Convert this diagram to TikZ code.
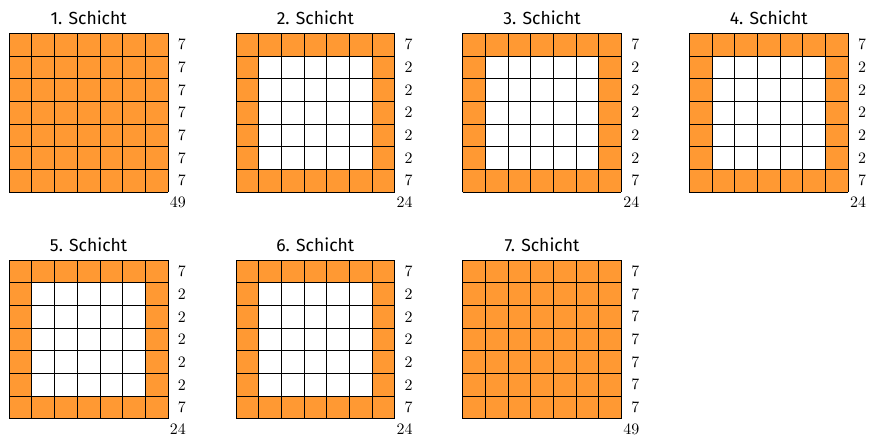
\documentclass[tikz,border=0pt]{standalone}
\usepackage{fontspec}
\setsansfont{Fira Sans}
\usetikzlibrary{positioning}
\definecolor{schichtorange}{HTML}{FF9933}

\begin{document}
\begin{tikzpicture}[
    x=0.5cm,
    y=0.5cm,
    aussen/.style={fill=schichtorange},
    innen/.style={fill=white},
    gitter/.style={draw=black, line width=0.6pt, step=0.5cm},
    titel/.style={font=\sffamily\fontsize{11}{13}\selectfont, anchor=base, inner sep=0pt},
    zahl/.style={font=\fontsize{10}{12}\selectfont, anchor=east, inner sep=0pt}
]
\useasboundingbox (-0.41,-10.76) rectangle (37.92,8.47);

% ============================================================
% SCHICHTEN 1--7 (Spalte/Zeile, mittlere Zeilen, Summe)
% ============================================================
\foreach \s/\cx/\cy/\mitte/\summe in {1/0/0/7/49, 2/1/0/2/24, 3/2/0/2/24, 4/3/0/2/24,
                                       5/0/1/2/24, 6/1/1/2/24, 7/2/1/7/49} {
  \begin{scope}[shift={(10*\cx,-10*\cy)}]
    \fill[aussen] (0,0) rectangle (7,7);
    \ifnum\mitte=2
      \fill[innen] (1,1) rectangle (6,6);
    \fi
    \draw[gitter] (0,0) grid (7,7);
    \node[titel] (titel\s) at (3.5,7.37) {\s. Schicht};
    % Zeilensummen
    \node[zahl] (oben\s) at (7.8,6.5) {7};
    \foreach \j in {1,...,5}
      \node[zahl] (zeile\s-\j) at (7.8,\j+0.5) {\mitte};
    \node[zahl] (unten\s) at (7.8,0.5) {7};
    \node[zahl] (summe\s) at (7.8,-0.45) {\summe};
  \end{scope}
}

\end{tikzpicture}
\end{document}
